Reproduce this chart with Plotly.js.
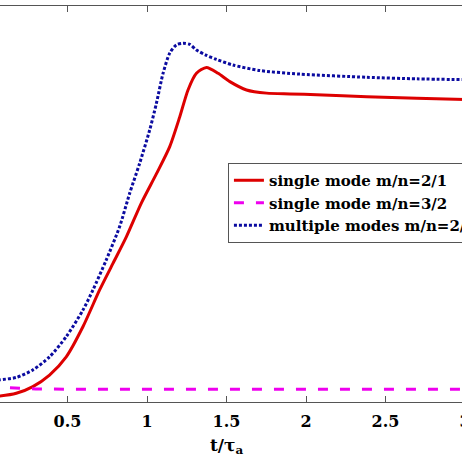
<!DOCTYPE html>
<html>
<head>
<meta charset="utf-8">
<script src="https://cdn.plot.ly/plotly-3.0.1.min.js"></script>
<style>
  html, body { margin: 0; padding: 0; overflow: hidden; background: #fff; }
  #chart { position: absolute; left: -12px; top: 0; width: 480px; height: 462px; }
</style>
</head>
<body>
<div id="chart"></div>
<script>
// t / tau_a
const tRed = [0, 0.072, 0.178, 0.282, 0.387, 0.492, 0.597, 0.702, 0.786, 0.870, 0.965, 1.059, 1.143, 1.206, 1.258, 1.311, 1.374, 1.447, 1.521, 1.626, 1.752, 1.899, 2.067, 2.382, 2.697, 3.0];
const yRed = [0.013, 0.015, 0.022, 0.039, 0.068, 0.114, 0.190, 0.283, 0.350, 0.417, 0.503, 0.576, 0.645, 0.720, 0.788, 0.830, 0.845, 0.830, 0.809, 0.788, 0.780, 0.778, 0.776, 0.771, 0.767, 0.764];

const tMag = [0, 0.1, 0.3, 0.6, 1.0, 2.0, 3.0];
const yMag = [0.038, 0.036, 0.033, 0.032, 0.032, 0.032, 0.032];

const tBlue = [0, 0.072, 0.178, 0.282, 0.387, 0.492, 0.597, 0.660, 0.744, 0.828, 0.891, 0.954, 1.017, 1.059, 1.101, 1.143, 1.185, 1.227, 1.269, 1.311, 1.370, 1.437, 1.540, 1.710, 1.962, 2.382, 2.697, 3.0];
const yBlue = [0.053, 0.056, 0.062, 0.081, 0.114, 0.165, 0.232, 0.283, 0.359, 0.443, 0.527, 0.603, 0.687, 0.754, 0.830, 0.881, 0.902, 0.906, 0.903, 0.889, 0.876, 0.865, 0.851, 0.837, 0.828, 0.820, 0.816, 0.814];

const names = ['single mode m/n=2/1', 'single mode m/n=3/2', 'multiple modes m/n=2/1'];
const xTicks = [0.5, 1, 1.5, 2, 2.5, 3];

// only DejaVu Serif gives a serif face here
const serif = 'DejaVu Serif';

var data = [
  {x: tRed, y: yRed, name: names[0], type: 'scatter', mode: 'lines', line: {color: '#dd0000', width: 3, shape: 'spline', smoothing: 0.7}},
  {x: tMag, y: yMag, name: names[1], type: 'scatter', mode: 'lines', line: {color: '#ee00ee', width: 3, dash: '10px,12px'}},
  {x: tBlue, y: yBlue, name: names[2], type: 'scatter', mode: 'lines', line: {color: '#0b0ba0', width: 3, dash: '3px,2px', shape: 'spline', smoothing: 0.7}}
];

var layout = {
  width: 480,
  height: 462,
  margin: {l: 0, r: 3, t: 6, b: 60, autoexpand: false},
  paper_bgcolor: '#fff',
  plot_bgcolor: '#fff',
  showlegend: true,
  legend: {
    x: 0.503, y: 0.6035, xanchor: 'left', yanchor: 'top',
    bgcolor: '#fff', bordercolor: '#555', borderwidth: 1,
    font: {family: serif, size: 15, color: '#000', weight: 'bold'}
  },
  xaxis: {
    range: [0, 3],
    tickvals: xTicks,
    ticktext: xTicks.map(String),
    ticks: 'inside', ticklen: 6, tickcolor: '#555',
    ticklabeloverflow: 'allow',
    ticklabelstandoff: 5,
    showline: true, linecolor: '#555', linewidth: 1, mirror: 'ticks',
    showgrid: false, zeroline: false,
    tickfont: {family: serif, size: 16, color: '#000', weight: 'bold'},
    title: {text: 't/τ<sub>a</sub>', font: {family: serif, size: 17, color: '#000', weight: 'bold'}, standoff: 8}
  },
  yaxis: {
    range: [0, 1],
    ticks: '', showticklabels: false,
    showline: true, linecolor: '#555', linewidth: 1, mirror: true,
    showgrid: false, zeroline: false
  }
};

Plotly.newPlot('chart', data, layout, {displayModeBar: false, staticPlot: true});
</script>
</body>
</html>
